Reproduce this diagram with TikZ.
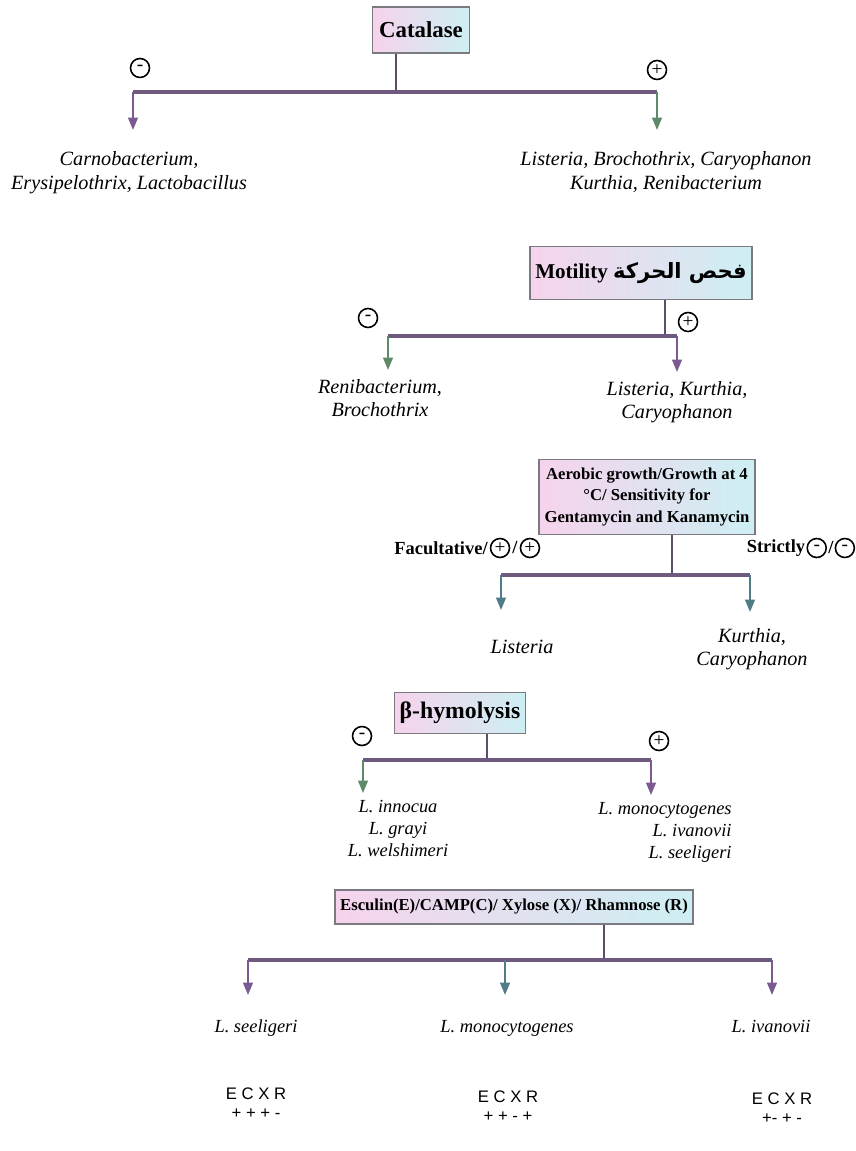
\documentclass[tikz,border=0pt]{standalone}
\usepackage{fontspec}
\setmainfont{Liberation Serif}
\newfontfamily\arabicfont[Script=Arabic]{DejaVu Sans}
\newfontfamily\ecxrfont{Liberation Sans}
\TeXXeTstate=1
\usetikzlibrary{arrows.meta,positioning}
\definecolor{barcol}{HTML}{6E5A7E}
\definecolor{stemcol}{HTML}{5C4D6B}
\definecolor{arrpur}{HTML}{7B5A94}
\definecolor{arrgrn}{HTML}{5F8A6A}
\definecolor{arrteal}{HTML}{4F7C87}
\definecolor{boxline}{HTML}{7A7A80}
\definecolor{boxpink}{HTML}{F6D3EC}
\definecolor{boxyel}{HTML}{F3F2C8}
\definecolor{boxcyan}{HTML}{CDEFF3}
\begin{document}
\begin{tikzpicture}[x=0.02cm,y=-0.02cm,>={Triangle[length=7pt,width=5.5pt]},
    test box/.style 2 args={rectangle,draw=boxline,line width=0.9pt,left color=boxpink,middle color=boxyel,right color=boxcyan,align=center,inner sep=3pt,font=\bfseries\fontsize{#1}{#2}\selectfont},
    res big/.style={anchor=north,align=center,inner xsep=1pt,font=\itshape\fontsize{11.5}{13.5}\selectfont},
    res small/.style={anchor=north,align=center,inner xsep=1pt,font=\itshape\fontsize{10.5}{12.5}\selectfont},
    label text/.style={inner sep=0pt,font=\bfseries\fontsize{10.5}{12}\selectfont},
    ecxr/.style={align=center,font=\ecxrfont\fontsize{9.5}{11}\selectfont},
    sign/.style={circle,draw,line width=0.9pt,inner sep=0pt,minimum size=0.38cm,font=\fontsize{11}{11}\selectfont},
    stem/.style={draw=stemcol,line width=1.2pt},
    bar/.style={draw=barcol,line width=1.9pt},
    pur arrow/.style={->,draw=arrpur,line width=1.1pt},
    grn arrow/.style={->,draw=arrgrn,line width=1.1pt},
    teal arrow/.style={->,draw=arrteal,line width=1.1pt}]
  \useasboundingbox (0,0) rectangle (855,1151);

  % catalase
  \node[test box={13}{15},minimum width=1.94cm,minimum height=0.92cm] (cat) at (421,30) {Catalase};
  \node[sign] (cat neg) at (140,68) {-};
  \node[sign] (cat pos) at (657,70) {+};
  \coordinate (cat j) at (396,92);
  \coordinate (cat l) at (133,92);
  \coordinate (cat r) at (657,92);
  \node[res big,inner ysep=12pt] (carno) at (129,130) {Carnobacterium,\\Erysipelothrix, Lactobacillus};
  \node[res big,inner ysep=12pt] (lis1) at (666,130) {Listeria, Brochothrix, Caryophanon\\Kurthia, Renibacterium};
  \draw[stem] (cat.south -| cat j) -- (cat j);
  \draw[bar] (cat l) -- (cat r);
  \draw[pur arrow] (cat l) -- (cat l |- carno.north);
  \draw[grn arrow] (cat r) -- (cat r |- lis1.north);

  % motility
  \node[test box={12}{14},minimum width=3.44cm,minimum height=1.06cm] (mot) at (641,273) {Motility {\arabicfont\beginR فحص الحركة\endR}};
  \node[sign] (mot neg) at (368,318) {-};
  \node[sign] (mot pos) at (688,322) {+};
  \coordinate (mot j) at (665,336);
  \coordinate (mot l) at (388,336);
  \coordinate (mot r) at (677,336);
  \node[res big,inner ysep=5pt] (reni) at (380,370) {Renibacterium,\\Brochothrix};
  \node[res big,inner ysep=5pt] (lkc) at (677,372) {Listeria, Kurthia,\\Caryophanon};
  \draw[stem] (mot.south -| mot j) -- (mot j);
  \draw[bar] (mot l) -- (mot r);
  \draw[grn arrow] (mot l) -- (mot l |- reni.north);
  \draw[pur arrow] (mot r) -- (mot r |- lkc.north);

  % aerobic growth
  \node[test box={9.5}{12},minimum width=4.18cm,minimum height=1.5cm] (aer) at (647,497) {Aerobic growth/Growth at 4\\°C/ Sensitivity for\\Gentamycin and Kanamycin};
  \node[label text] (fac) at (441,548) {Facultative/};
  \node[sign,right=1pt of fac] (fac p1) {+};
  \node[label text,right=1pt of fac p1] (fac sl) {/};
  \node[sign,right=1pt of fac sl] (fac p2) {+};
  \node[label text] (str) at (776,548) {Strictly};
  \node[sign,right=0.5pt of str] (str m1) {-};
  \node[label text,right=0.5pt of str m1] (str sl) {/};
  \node[sign,right=0.5pt of str sl] (str m2) {-};
  \coordinate (aer j) at (672,575);
  \coordinate (aer l) at (501,575);
  \coordinate (aer r) at (750,575);
  \node[res big,inner ysep=17pt] (lis2) at (522,610) {Listeria};
  \node[res big,inner ysep=9pt] (kc) at (752,612) {Kurthia,\\Caryophanon};
  \draw[stem] (aer.south -| aer j) -- (aer j);
  \draw[bar] (aer l) -- (aer r);
  \draw[teal arrow] (aer l) -- (aer l |- lis2.north);
  \draw[teal arrow] (aer r) -- (aer r |- kc.north);

  % beta hemolysis
  \node[test box={13.5}{15},minimum width=2.24cm,minimum height=0.82cm] (beta) at (460,713) {β-hymolysis};
  \node[sign] (beta neg) at (362,736) {-};
  \node[sign] (beta pos) at (659,741) {+};
  \coordinate (beta j) at (487,760);
  \coordinate (beta l) at (363,760);
  \coordinate (beta r) at (651,760);
  \node[res small,inner ysep=4pt] (innoc) at (398,793) {L. innocua\\L. grayi\\L. welshimeri};
  \node[res small,align=right,inner ysep=4pt] (mono1) at (665,795) {L. monocytogenes\\L. ivanovii\\L. seeligeri};
  \draw[stem] (beta.south -| beta j) -- (beta j);
  \draw[bar] (beta l) -- (beta r);
  \draw[grn arrow] (beta l) -- (beta l |- innoc.north);
  \draw[pur arrow] (beta r) -- (beta r |- mono1.north);

  % esculin / camp / xylose / rhamnose
  \node[test box={9.5}{11},minimum width=6.48cm,minimum height=0.68cm] (esc) at (514,907) {Esculin(E)/CAMP(C)/ Xylose (X)/ Rhamnose (R)};
  \coordinate (esc j) at (604,960);
  \coordinate (esc l) at (248,960);
  \coordinate (esc m) at (505,960);
  \coordinate (esc r) at (772,960);
  \node[res small,inner ysep=14pt] (seel) at (256,995) {L. seeligeri};
  \node[res small,inner ysep=14pt] (mono2) at (507,995) {L. monocytogenes};
  \node[res small,inner ysep=14pt] (ivan) at (771,995) {L. ivanovii};
  \draw[stem] (esc.south -| esc j) -- (esc j);
  \draw[bar] (esc l) -- (esc r);
  \draw[pur arrow] (esc l) -- (esc l |- seel.north);
  \draw[teal arrow] (esc m) -- (esc m |- mono2.north);
  \draw[pur arrow] (esc r) -- (esc r |- ivan.north);
  \node[ecxr] (ecxr l) at (256,1103) {E C X R\\+ + + -};
  \node[ecxr] (ecxr m) at (508,1106) {E C X R\\+ + - +};
  \node[ecxr] (ecxr r) at (782,1108) {E C X R\\+- + -};
\end{tikzpicture}
\end{document}
